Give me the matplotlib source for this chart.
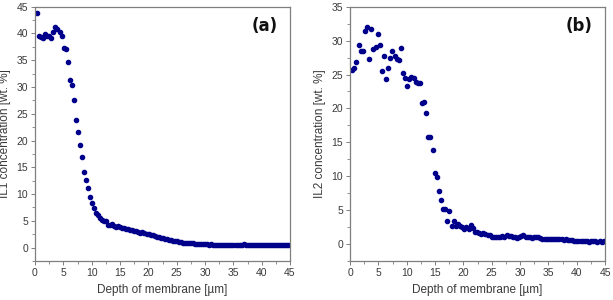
import numpy as np
import matplotlib
matplotlib.use("Agg")
import matplotlib.pyplot as plt
from matplotlib.ticker import MultipleLocator

plt.rcParams['font.family'] = ['Liberation Sans', 'DejaVu Sans']

# ---------------- data ----------------
depth_start_a = 0.40
depth_step_a = 0.357
il1_conc = [
    43.8, 39.5, 39.3, 39.1, 39.9, 39.5, 39.6, 39.2, 40.2, 41.2,
    40.8, 40.3, 39.5, 37.2, 37.1, 34.6, 31.4, 30.3, 27.5, 23.9,
    21.6, 19.2, 16.9, 14.2, 12.6, 11.1, 9.4, 8.25, 7.4, 6.5,
    6.0, 5.6, 5.2, 5.0, 4.9, 4.3, 4.25, 4.4, 4.1, 3.9,
    3.95, 3.8, 3.6, 3.7, 3.5, 3.5, 3.2, 3.2, 3.1, 3.1,
    3.0, 2.8, 2.9, 2.7, 2.6, 2.55, 2.4, 2.3, 2.2, 2.05,
    2.0, 1.85, 1.75, 1.7, 1.55, 1.5, 1.4, 1.3, 1.25, 1.2,
    1.1, 1.05, 0.95, 0.9, 0.9, 0.85, 0.85, 0.9, 0.75, 0.7,
    0.7, 0.65, 0.6, 0.6, 0.6, 0.55, 0.6, 0.55, 0.5, 0.55,
    0.5, 0.55, 0.5, 0.5, 0.55, 0.5, 0.45, 0.5, 0.5, 0.55,
    0.5, 0.55, 0.6, 0.5, 0.55, 0.5, 0.5, 0.45, 0.5, 0.5,
    0.45, 0.5, 0.55, 0.5, 0.5, 0.45, 0.5, 0.5, 0.45, 0.5,
    0.5, 0.55, 0.5, 0.5, 0.55,
]

depth_start_b = 0.40
depth_step_b = 0.373
il2_conc = [
    25.6, 26.0, 26.8, 29.4, 28.4, 28.4, 31.4, 32.06, 27.35, 31.7,
    28.8, 29.0, 31.0, 29.4, 25.5, 27.7, 24.4, 25.9, 27.45, 28.5,
    27.8, 27.3, 27.1, 28.9, 25.15, 24.5, 23.3, 24.3, 24.6, 24.5,
    23.9, 23.7, 23.7, 20.8, 21.0, 19.3, 15.8, 15.8, 13.9, 10.55,
    9.85, 7.8, 6.45, 5.2, 5.2, 3.35, 4.85, 2.6, 3.4, 2.6,
    3.0, 2.7, 2.5, 2.2, 2.5, 2.2, 2.8, 2.4, 1.8, 1.8,
    1.7, 1.5, 1.7, 1.5, 1.4, 1.3, 1.1, 1.0, 1.0, 1.1,
    1.0, 1.2, 1.1, 1.4, 1.2, 1.2, 1.0, 1.0, 0.9, 1.1,
    1.2, 1.3, 1.1, 1.0, 1.0, 0.9, 1.0, 1.1, 1.0, 0.85,
    0.8, 0.8, 0.75, 0.75, 0.7, 0.75, 0.7, 0.75, 0.7, 0.7,
    0.65, 0.7, 0.6, 0.6, 0.55, 0.5, 0.5, 0.45, 0.45, 0.4,
    0.45, 0.4, 0.35, 0.45, 0.5, 0.4, 0.35, 0.4, 0.35, 0.4,
]

depth_a = depth_start_a + depth_step_a * np.arange(len(il1_conc))
depth_b = depth_start_b + depth_step_b * np.arange(len(il2_conc))

panels = [
    dict(x=depth_a, y=il1_conc, ylabel="IL1 concentration [wt. %]", ylim=(-2.5, 45),
         tag="(a)", left=35),
    dict(x=depth_b, y=il2_conc, ylabel="IL2 concentration [wt. %]", ylim=(-2.5, 35),
         tag="(b)", left=350),
]

W, H = 613, 300
fig = plt.figure(figsize=(W / 100, H / 100), dpi=100)
fig.patch.set_facecolor("white")

spine_col = "#7f7f7f"
text_col = "#3a3a3a"

for p in panels:
    ax = fig.add_axes([p["left"] / W, (H - 261) / H, 255 / W, 254.3 / H])
    ax.plot(p["x"], p["y"], linestyle="none", marker="o", ms=3.0,
            color="#00008B", mec="#00008B", clip_on=True)
    ax.set_xlim(0, 45)
    ax.set_ylim(*p["ylim"])
    ax.xaxis.set_major_locator(MultipleLocator(5))
    ax.xaxis.set_minor_locator(MultipleLocator(2.5))
    ax.yaxis.set_major_locator(MultipleLocator(5))
    ax.yaxis.set_minor_locator(MultipleLocator(2.5))
    ax.tick_params(which="both", direction="out", colors=spine_col,
                   labelcolor=text_col, labelsize=7.5, top=False, right=False)
    ax.tick_params(which="major", length=3, width=0.7, pad=2)
    ax.tick_params(which="minor", length=2, width=0.6)
    for s in ax.spines.values():
        s.set_color(spine_col)
        s.set_linewidth(0.9)
    ax.set_xlabel("Depth of membrane [µm]", fontsize=8.5, color=text_col, labelpad=4)
    ax.set_ylabel(p["ylabel"], fontsize=8.5, color=text_col, labelpad=4)
    ax.text(0.90, 0.925, p["tag"], transform=ax.transAxes, fontsize=12,
            fontweight="bold", ha="center", va="center", color="#111111",
            family=["DejaVu Sans"])

fig.savefig("out.png", dpi=100, facecolor="white")
